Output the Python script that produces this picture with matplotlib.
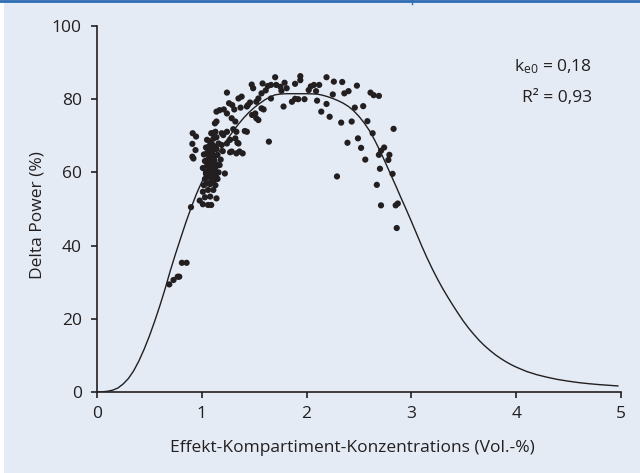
import matplotlib
matplotlib.use("Agg")
import matplotlib.pyplot as plt
from matplotlib.lines import Line2D
from matplotlib.patches import Rectangle

plt.rcParams['font.family'] = ['Open Sans', 'DejaVu Sans']

# --- Data -------------------------------------------------------------
scatter_x = [
    # lower left
    0.69, 0.73, 0.77, 0.785, 0.81, 0.855, 0.897,
    # left column
    0.913, 0.945, 0.91, 0.94, 0.91, 0.92,
    # bottom of cluster
    0.98, 1.01, 1.06, 1.09, 1.14, 1.08, 1.01, 1.06, 1.11, 1.03,
    # dense cluster
    1.02, 1.05, 1.08, 1.11, 1.14, 1.03, 1.06, 1.09, 1.12, 1.04, 1.07, 1.10, 1.13,
    1.01, 1.05, 1.08, 1.11, 1.15, 1.17, 1.03, 1.06, 1.09, 1.12, 1.15, 1.02, 1.05,
    1.08, 1.11, 1.14, 1.04, 1.07, 1.10, 1.13, 1.16, 1.19, 1.05, 1.08, 1.11, 1.14,
    1.10, 1.19, 1.205, 1.06, 1.09, 1.12, 1.07, 1.10, 1.18, 1.20, 1.16, 1.13, 1.04,
    1.09, 1.12, 1.15, 1.22,
    # middle band
    1.24, 1.27, 1.32, 1.33, 1.285, 1.33, 1.36, 1.39, 1.35, 1.41, 1.43, 1.30, 1.24,
    1.125, 1.14, 1.13, 1.09, 1.17, 1.21, 1.14, 1.24, 1.26, 1.29, 1.31, 1.285, 1.32,
    1.24, 1.35, 1.37, 1.43, 1.46, 1.38, 1.44, 1.48, 1.52, 1.51, 1.54, 1.476, 1.49,
    1.52, 1.54, 1.57, 1.57, 1.59, 1.34, 1.27,
    # top
    1.58, 1.61, 1.63, 1.66, 1.70, 1.71, 1.75, 1.76, 1.79, 1.81, 1.89, 1.94, 1.94,
    2.02, 2.04, 2.07, 2.09, 2.12, 2.19, 2.26, 2.34, 2.25, 2.36, 2.40, 2.48, 2.61,
    2.64, 2.69,
    1.66, 1.78, 1.86, 1.89, 1.92, 1.98, 2.10, 2.14, 2.19, 2.22, 2.33, 2.43, 2.46,
    2.54, 2.58, 2.63, 2.83, 2.39, 2.49, 2.52, 2.56, 1.64, 2.29,
    # right cluster
    2.69, 2.71, 2.74, 2.79, 2.78, 2.70, 2.82, 2.67, 2.71, 2.85, 2.87, 2.86,
]
scatter_y = [
    29.4, 30.6, 31.5, 31.5, 35.3, 35.3, 50.5,
    70.7, 69.8, 67.8, 66.1, 64.3, 63.8,
    52.3, 51.3, 51.1, 51.1, 52.9, 53.4, 54.7, 55.2, 55.2, 53.2,
    56.5, 57.0, 56.8, 57.5, 58.6, 58.2, 58.9, 59.3, 59.0, 60.1, 60.6, 60.9, 61.3,
    61.2, 61.8, 62.4, 62.8, 62.1, 62.0, 63.1, 63.6, 64.0, 64.3, 64.8, 64.9, 65.3,
    65.8, 66.1, 66.4, 66.8, 67.2, 67.6, 67.0, 67.9, 67.5, 68.9, 68.4, 69.2, 69.6,
    70.7, 70.7, 70.2, 62.9, 57.9, 60.4, 64.7, 65.0, 63.5, 65.8, 60.0, 56.5, 59.6,
    61.5, 63.2, 58.2, 59.7,
    67.9, 68.9, 69.3, 71.1, 65.7, 65.2, 65.7, 65.2, 67.9, 71.3, 71.1, 71.8, 71.1,
    73.4, 73.9, 71.1, 70.7, 77.0, 77.2, 76.6, 76.1, 78.9, 78.4, 77.2, 74.8, 73.9,
    81.8, 80.2, 77.7, 78.0, 79.1, 80.7, 78.4, 75.7, 74.8, 76.1, 74.3, 84.0, 83.0,
    79.3, 80.2, 81.6, 77.5, 77.2, 68.1, 65.5,
    84.3, 82.4, 83.6, 83.9, 86.0, 83.9, 83.4, 82.3, 84.5, 83.0, 84.2, 86.3, 85.2,
    82.5, 83.5, 83.9, 82.2, 83.9, 86.0, 84.8, 84.7, 81.3, 81.6, 82.2, 83.7, 81.8,
    81.1, 80.9,
    80.2, 78.0, 79.3, 80.1, 80.0, 80.0, 79.6, 76.6, 78.7, 75.2, 73.6, 73.9, 77.7,
    78.1, 74.0, 70.7, 71.9, 68.1, 69.3, 66.7, 63.5, 68.4, 58.9,
    64.8, 65.9, 66.8, 64.8, 63.4, 61.0, 59.6, 56.6, 51.0, 51.0, 51.5, 44.8,
]

# fitted model curve
curve_x = [0.0, 0.05, 0.1, 0.15, 0.2, 0.25, 0.3, 0.35, 0.4, 0.45, 0.5, 0.55, 0.6,
           0.65, 0.7, 0.75, 0.8, 0.85, 0.9, 0.95, 1.0, 1.05, 1.1, 1.15, 1.2, 1.25,
           1.3, 1.35, 1.4, 1.45, 1.5, 1.55, 1.6, 1.65, 1.7, 1.75, 1.8, 1.9, 2.0,
           2.1, 2.15, 2.2, 2.25, 2.3, 2.35, 2.4, 2.45, 2.5, 2.55, 2.6, 2.65, 2.7,
           2.75, 2.8, 2.85, 2.9, 2.95, 3.0, 3.05, 3.1, 3.15, 3.2, 3.25, 3.3, 3.35,
           3.4, 3.45, 3.5, 3.55, 3.6, 3.65, 3.7, 3.75, 3.8, 3.85, 3.9, 3.95, 4.0,
           4.1, 4.2, 4.3, 4.4, 4.5, 4.6, 4.7, 4.8, 4.9, 4.97]
curve_y = [0.0, 0.05, 0.2, 0.5, 1.1, 2.2, 3.7, 5.8, 8.5, 11.7, 15.3, 19.3, 23.6,
           28.2, 33.2, 37.8, 42.2, 46.5, 50.5, 54.2, 57.4, 60.2, 62.7, 65.0, 67.2,
           69.3, 71.3, 73.2, 74.9, 76.4, 77.7, 78.8, 79.8, 80.6, 81.2, 81.4, 81.5,
           81.5, 81.5, 81.4, 81.1, 80.7, 80.2, 79.6, 78.9, 78.0, 76.8, 75.3, 73.5,
           71.4, 68.8, 65.9, 62.8, 59.6, 56.4, 53.1, 49.9, 46.6, 43.2, 39.8, 36.6,
           33.6, 30.8, 28.2, 25.8, 23.5, 21.3, 19.2, 17.3, 15.6, 14.0, 12.6, 11.35,
           10.2, 9.2, 8.3, 7.5, 6.8, 5.6, 4.7, 4.0, 3.4, 2.95, 2.55, 2.25, 2.0,
           1.8, 1.65]

x_ticks = [0, 1, 2, 3, 4, 5]
y_ticks = [0, 20, 40, 60, 80, 100]

# --- Figure -----------------------------------------------------------
W, H = 640, 473
bg = '#e4ebf5'
ink = '#231f20'
fs = 12.5
fig = plt.figure(figsize=(W / 100, H / 100), dpi=100, facecolor=bg)

# decorative frame
fig.patches.append(Rectangle((0, 0), 4 / W, 1, transform=fig.transFigure,
                             facecolor='white', edgecolor='none', zorder=0))
fig.lines.append(Line2D([0, 1], [1 - 1.3 / H, 1 - 1.3 / H], transform=fig.transFigure,
                        color='#2f6cb3', lw=2.0))
fig.lines.append(Line2D([412 / W, 412 / W], [1, 1 - 4 / H], transform=fig.transFigure,
                        color='#2f6cb3', lw=1.0))

ax_h = 392 - 26
ax_w = 621 - 97
ax = fig.add_axes([97 / W, (H - 392) / H, ax_w / W, ax_h / H])
ax.set_facecolor(bg)

ax.plot(curve_x, curve_y, color=ink, lw=1.0, zorder=2)
ax.scatter(scatter_x, scatter_y, s=20, color=ink, edgecolors='none', zorder=3)

ax.set_xlim(0, 5)
ax.set_ylim(0, 100)
ax.set_xticks(x_ticks)
ax.set_yticks(y_ticks)
ax.set_xticklabels([str(v) for v in x_ticks])
ax.set_yticklabels([str(v) for v in y_ticks])
for s in ['top', 'right']:
    ax.spines[s].set_visible(False)
for s in ['left', 'bottom']:
    ax.spines[s].set_linewidth(1.2)
    ax.spines[s].set_color(ink)
ax.tick_params(direction='out', length=4, width=1.2, color=ink,
               labelsize=fs, labelcolor=ink)
ax.tick_params(axis='x', pad=6)
ax.tick_params(axis='y', pad=7)

ax.set_xlabel('Effekt-Kompartiment-Konzentrations (Vol.-%)', fontsize=fs, color=ink)
ax.xaxis.set_label_coords((352 - 97) / ax_w, -(440 - 392) / ax_h)
ax.set_ylabel('Delta Power (%)', fontsize=fs, color=ink)
ax.yaxis.set_label_coords(-(97 - 45) / ax_w, (392 - 215) / ax_h)

ax.text(4.72, 87.5, r'$\mathregular{k_{e0}}$ = 0,18', ha='right', va='baseline',
        fontsize=fs, color=ink)
ax.text(4.72, 79.3, 'R² = 0,93', ha='right', va='baseline',
        fontsize=fs, color=ink)

fig.savefig('out.png', dpi=100, facecolor=bg)
